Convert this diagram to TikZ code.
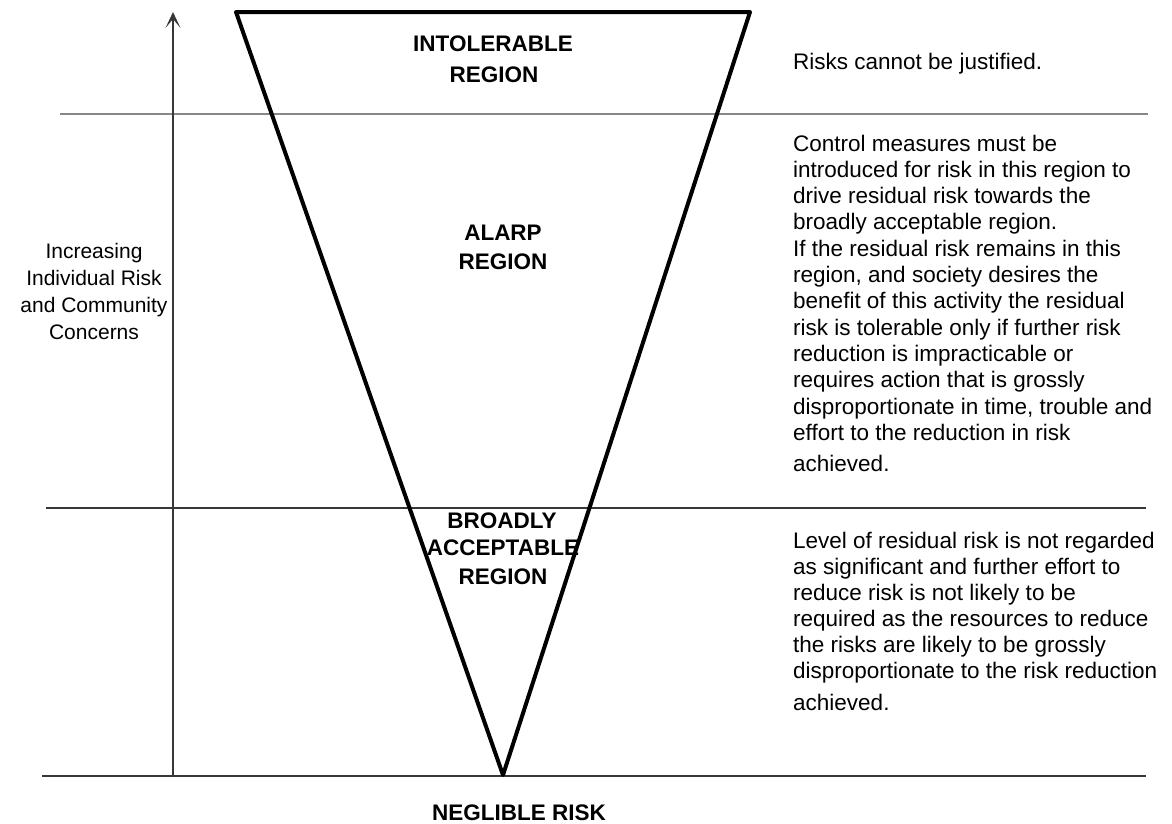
\documentclass[tikz,border=0pt]{standalone}
\usepackage{fontspec}
\setmainfont{Liberation Sans}
\usetikzlibrary{arrows.meta}
\definecolor{gline}{RGB}{135,135,135}
\definecolor{dline}{RGB}{55,55,55}
\begin{document}
\begin{tikzpicture}[x=1pt,y=-1pt,
  body/.style={font=\fontsize{22.5}{26}\selectfont, inner sep=0pt, anchor=base west},
  side/.style={font=\fontsize{21}{27}\selectfont, inner sep=0pt, anchor=base},
  lbl/.style={font=\fontsize{22.5}{27}\selectfont\bfseries, inner sep=0pt, anchor=base},
  tri/.style={line width=4pt, line join=round, black},
  graysep/.style={line width=2.6pt, gline},
  darksep/.style={line width=2pt, dline},
  axisarrow/.style={line width=1.8pt, dline, -{Stealth[length=16pt,width=15pt,inset=9pt]}}
]
\fill[white] (0,0) rectangle (1172,823);
\useasboundingbox (0,0) rectangle (1172,823);

% separators
\coordinate (g1) at (60,114);   \coordinate (g2) at (1148,114);
\coordinate (m1) at (46,508);   \coordinate (m2) at (1146,508);
\coordinate (b1) at (42,776);   \coordinate (b2) at (1146,776);
\draw[graysep] (g1) -- (g2);
\draw[darksep] (m1) -- (m2);
\draw[darksep] (b1) -- (b2);

% axis arrow
\coordinate (ab) at (173,776);
\coordinate (at) at (173,12);
\draw[axisarrow] (ab) -- (at);

% inverted triangle
\coordinate (tl) at (236,12);
\coordinate (tr) at (750,12);
\coordinate (ap) at (503,775);
\draw[tri] (tl) -- (tr) -- (ap) -- cycle;

% region labels
\node[lbl] (int1) at (493,51) {INTOLERABLE};
\node[lbl] (int2) at (494,82) {REGION};
\node[lbl] (ala1) at (503,240) {ALARP};
\node[lbl] (ala2) at (503,269) {REGION};
\node[lbl] (bro1) at (502,528) {BROADLY};
\node[lbl] (bro2) at (503,555) {ACCEPTABLE};
\node[lbl] (bro3) at (503,584) {REGION};
\node[lbl, anchor=base west] (neg) at (432,820) {NEGLIBLE RISK};

% left axis label
\node[side] (ax1) at (94,258) {Increasing};
\node[side] (ax2) at (94,285) {Individual Risk};
\node[side] (ax3) at (94,312) {and Community};
\node[side] (ax4) at (94,339) {Concerns};

% right descriptions
\node[body] (d1) at (793,69) {Risks cannot be justified.};

\foreach \t [count=\i from 0] in {Control measures must be, introduced for risk in this region to, drive residual risk towards the, broadly acceptable region., If the residual risk remains in this, {region, and society desires the}, benefit of this activity the residual, risk is tolerable only if further risk, reduction is impracticable or, requires action that is grossly, {disproportionate in time, trouble and}, effort to the reduction in risk}
  \node[body] (alarp\i) at (793,{151+\i*26.3}) {\t};
\node[body] (alarpend) at (793,471) {achieved.};

\foreach \t [count=\i from 0] in {Level of residual risk is not regarded, as significant and further effort to, reduce risk is not likely to be, required as the resources to reduce, the risks are likely to be grossly, disproportionate to the risk reduction}
  \node[body] (broad\i) at (793,{548+\i*26}) {\t};
\node[body] (broadend) at (793,710) {achieved.};
\end{tikzpicture}
\end{document}
